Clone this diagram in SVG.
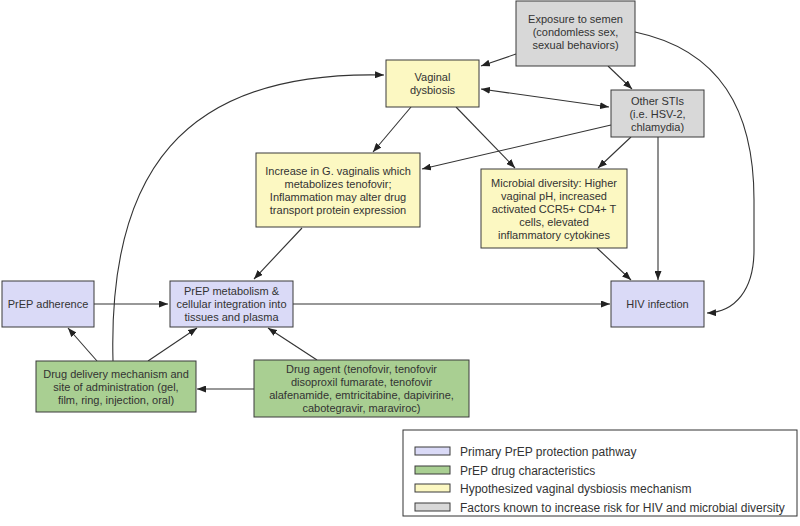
<svg xmlns="http://www.w3.org/2000/svg" width="800" height="526" viewBox="0 0 800 526">
<defs>
<marker id="ah" viewBox="0 0 9 7" markerWidth="9" markerHeight="7" refX="9" refY="3.5" orient="auto-start-reverse" markerUnits="userSpaceOnUse">
<path d="M0,0 L9,3.5 L0,7 z" fill="#222"/>
</marker>
<style>
.box{stroke:#3a3a3a;stroke-width:1}
.p{fill:#dadaf7}
.g{fill:#a9cf92}
.y{fill:#fcf8c2}
.s{fill:#d8d8d8}
text{font-family:"Liberation Sans",Arial,sans-serif;font-size:11px;fill:#333;text-anchor:middle}
.leg text{font-size:12px;text-anchor:start}
.c path{fill:none;stroke:#333;stroke-width:1.1;marker-end:url(#ah)}
</style>
</defs>
<rect width="800" height="526" fill="#fff"/>
<g class="c" id="connectors">
<path d="M516,54 L481,66"/>
<path d="M608,66 L632,89"/>
<path d="M481,89 L609,107" style="marker-start:url(#ah)"/>
<path d="M635,32 C720,50 754,110 754,200 L754,250 C754,290 735,312 707,313"/>
<path d="M658,137 L658,280"/>
<path d="M611,125 L422,169"/>
<path d="M631,137 L598,168"/>
<path d="M456,107 L515,168"/>
<path d="M411,107 L373,152"/>
<path d="M302,228 L254,279"/>
<path d="M597,248 L631,280"/>
<path d="M94,304 L168,304"/>
<path d="M293,304 L610,304"/>
<path d="M97,361 L68,328"/>
<path d="M148,361 L197,328"/>
<path d="M317,360 L268,328"/>
<path d="M254,389 L197,389"/>
<path d="M113,361 C108,175 180,70 384,75"/>
</g>
<g id="exposure">
<rect class="box s" x="516" y="1" width="119" height="65"/>
<text x="575.5" y="23">Exposure to semen</text>
<text x="575.5" y="36">(condomless sex,</text>
<text x="575.5" y="49">sexual behaviors)</text>
</g>
<g id="vaginal-dysbiosis">
<rect class="box y" x="386" y="60" width="93" height="47"/>
<text x="432.5" y="80.5">Vaginal</text>
<text x="432.5" y="93.5">dysbiosis</text>
</g>
<g id="other-stis">
<rect class="box s" x="611" y="90" width="93" height="47"/>
<text x="657.5" y="104.5">Other STIs</text>
<text x="657.5" y="117.5">(i.e. HSV-2,</text>
<text x="657.5" y="130.5">chlamydia)</text>
</g>
<g id="g-vaginalis">
<rect class="box y" x="256" y="153" width="164" height="74"/>
<text x="338" y="174.5">Increase in G. vaginalis which</text>
<text x="338" y="187.5">metabolizes tenofovir;</text>
<text x="338" y="200.5">Inflammation may alter drug</text>
<text x="338" y="213.5">transport protein expression</text>
</g>
<g id="microbial-diversity">
<rect class="box y" x="481" y="169" width="146" height="79"/>
<text x="554" y="186.5">Microbial diversity: Higher</text>
<text x="554" y="199.5">vaginal pH, increased</text>
<text x="554" y="212.5">activated CCR5+ CD4+ T</text>
<text x="554" y="225.5">cells, elevated</text>
<text x="554" y="238.5">inflammatory cytokines</text>
</g>
<g id="prep-adherence">
<rect class="box p" x="2" y="281" width="92" height="46"/>
<text x="48" y="308">PrEP adherence</text>
</g>
<g id="prep-metabolism">
<rect class="box p" x="170" y="281" width="123" height="46"/>
<text x="231.5" y="295">PrEP metabolism &amp;</text>
<text x="231.5" y="308">cellular integration into</text>
<text x="231.5" y="321">tissues and plasma</text>
</g>
<g id="hiv-infection">
<rect class="box p" x="611" y="281" width="93" height="46"/>
<text x="657.5" y="308">HIV infection</text>
</g>
<g id="drug-delivery">
<rect class="box g" x="36" y="361" width="160" height="51"/>
<text x="116" y="377.5">Drug delivery mechanism and</text>
<text x="116" y="390.5">site of administration (gel,</text>
<text x="116" y="403.5">film, ring, injection, oral)</text>
</g>
<g id="drug-agent">
<rect class="box g" x="254" y="360" width="215" height="57"/>
<text x="361.5" y="372.5">Drug agent (tenofovir, tenofovir</text>
<text x="361.5" y="385.5">disoproxil fumarate, tenofovir</text>
<text x="361.5" y="398.5">alafenamide, emtricitabine, dapivirine,</text>
<text x="361.5" y="411.5">cabotegravir, maraviroc)</text>
</g>
<g id="legend" class="leg">
<rect x="403" y="430" width="394" height="86" fill="#fff" stroke="#333" stroke-width="1"/>
<rect class="box p" x="415" y="447" width="35" height="8"/>
<text x="460" y="455.5">Primary PrEP protection pathway</text>
<rect class="box g" x="415" y="466" width="35" height="8"/>
<text x="460" y="474.5">PrEP drug characteristics</text>
<rect class="box y" x="415" y="484" width="35" height="8"/>
<text x="460" y="492.5">Hypothesized vaginal dysbiosis mechanism</text>
<rect class="box s" x="415" y="503" width="35" height="8"/>
<text x="460" y="511.5">Factors known to increase risk for HIV and microbial diversity</text>
</g>
</svg>
